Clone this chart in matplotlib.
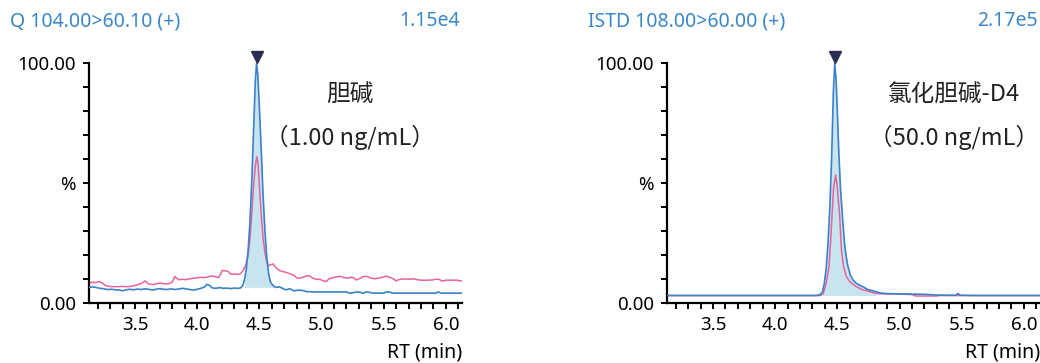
import numpy as np
import matplotlib
matplotlib.use("Agg")
import matplotlib.pyplot as plt

plt.rcParams['font.family'] = ['Noto Sans', 'Noto Sans CJK SC', 'DejaVu Sans']

# ---- data (RT in min, intensity in %) ----
q_rt = [3.13, 3.16, 3.19, 3.22, 3.25, 3.28, 3.31, 3.34, 3.37, 3.40, 3.43, 3.46, 3.49,
        3.52, 3.55, 3.58, 3.61, 3.64, 3.67, 3.70, 3.73, 3.76, 3.79, 3.82, 3.85, 3.88,
        3.91, 3.94, 3.97, 4.00, 4.03, 4.06, 4.08, 4.10, 4.12, 4.15, 4.18, 4.21, 4.24,
        4.27, 4.30, 4.33, 4.35, 4.365, 4.38, 4.395, 4.41, 4.425, 4.44, 4.455, 4.468,
        4.478, 4.488, 4.50, 4.515, 4.53, 4.545, 4.56, 4.575, 4.59, 4.61, 4.63, 4.66,
        4.68, 4.70, 4.72, 4.74, 4.76, 4.78, 4.80, 4.83, 4.86, 4.88, 4.91, 4.94, 5.00,
        5.10, 5.20, 5.225, 5.26, 5.28, 5.31, 5.33, 5.35, 5.36, 5.39, 5.41, 5.50, 5.52,
        5.55, 5.57, 5.70, 5.80, 5.92, 5.94, 5.96, 6.05, 6.13]
q_main = [6.4, 6.6, 6.3, 6.0, 5.8, 5.5, 5.6, 5.4, 5.3, 5.0, 5.4, 5.6, 5.4,
          5.7, 5.5, 5.8, 5.6, 5.3, 5.6, 5.9, 5.6, 5.5, 5.8, 5.5, 5.7, 6.0,
          5.8, 5.5, 5.3, 5.6, 6.0, 6.6, 7.7, 7.2, 6.2, 6.0, 6.3, 6.0, 6.1,
          5.9, 6.1, 6.0, 6.2, 7.0, 9.5, 14, 22, 34, 52, 74, 93,
          100, 95, 82, 64, 45, 30, 19, 12, 8.5, 7.2, 6.4, 6.6,
          6.2, 5.6, 5.4, 5.8, 5.5, 4.9, 5.2, 5.2, 5.0, 4.6, 4.6, 4.5, 4.5,
          4.5, 4.5, 4.0, 4.2, 4.5, 4.4, 3.9, 4.3, 4.5, 4.3, 4.0, 4.0, 4.5,
          4.4, 4.0, 4.0, 4.0, 4.0, 4.5, 4.0, 4.0, 4.0]

q_rt2 = [3.13, 3.16, 3.19, 3.21, 3.23, 3.26, 3.29, 3.32, 3.36, 3.40, 3.44, 3.48, 3.51,
         3.55, 3.58, 3.61, 3.64, 3.68, 3.71, 3.74, 3.77, 3.80, 3.82, 3.85, 3.88, 3.91,
         3.94, 3.97, 4.00, 4.03, 4.06, 4.09, 4.115, 4.14, 4.17, 4.19, 4.20, 4.23, 4.25,
         4.27, 4.30, 4.33, 4.35, 4.37, 4.39, 4.41, 4.425, 4.44, 4.455, 4.47, 4.48, 4.49,
         4.50, 4.515, 4.53, 4.545, 4.56, 4.575, 4.59, 4.61, 4.63, 4.66, 4.69, 4.72, 4.75,
         4.78, 4.80, 4.82, 4.85, 4.88, 4.90, 4.93, 4.96, 4.99, 5.02, 5.04, 5.06, 5.09,
         5.12, 5.15, 5.18, 5.21, 5.24, 5.26, 5.28, 5.31, 5.34, 5.37, 5.40, 5.43, 5.46,
         5.49, 5.52, 5.55, 5.58, 5.60, 5.62, 5.65, 5.68, 5.71, 5.74, 5.77, 5.80, 5.83,
         5.86, 5.89, 5.92, 5.95, 5.97, 6.00, 6.03, 6.06, 6.09, 6.12, 6.13]
q_qual = [8.4, 8.5, 8.4, 8.9, 8.4, 7.3, 6.8, 6.7, 6.7, 6.8, 6.7, 6.9, 7.4,
          8.0, 9.1, 7.8, 7.6, 8.0, 8.2, 7.8, 7.9, 8.6, 10.9, 9.6, 9.8, 9.6,
          10.0, 10.2, 10.4, 10.6, 10.5, 10.8, 11.2, 10.9, 10.5, 12.0, 13.4, 13.3, 13.0,
          11.9, 12.0, 11.8, 12.2, 13.5, 15.5, 20, 27, 38, 50, 58, 61, 58,
          49, 37, 27, 21, 17, 15.5, 15.8, 16.2, 14.8, 13.5, 13.0, 12.6, 12.0,
          11.4, 10.4, 10.2, 10.6, 11.2, 11.3, 10.2, 9.8, 9.7, 9.0, 8.9, 10.0, 10.5,
          10.8, 11.0, 10.5, 10.2, 10.7, 10.3, 9.5, 10.2, 11.0, 10.9, 10.2, 10.0, 10.3,
          10.6, 11.1, 10.6, 9.9, 9.1, 9.6, 9.9, 9.9, 9.8, 10.0, 9.6, 9.4, 9.4,
          9.4, 9.5, 9.8, 9.7, 9.0, 9.4, 9.4, 9.4, 9.4, 9.1, 9.0]

istd_rt = [3.13, 4.33, 4.36, 4.38, 4.395, 4.41, 4.425, 4.44, 4.455, 4.468, 4.479, 4.49,
           4.50, 4.511, 4.525, 4.541, 4.559, 4.575, 4.586, 4.605, 4.626, 4.65, 4.68,
           4.706, 4.74, 4.78, 4.814, 4.85, 4.90, 5.00, 5.10, 5.20, 5.30, 5.40, 5.45,
           5.47, 5.49, 5.60, 6.13]
istd_main = [3.0, 3.0, 3.3, 4.5, 8, 14, 25, 40, 62, 88, 100, 93,
             80, 64, 48, 36, 24, 18, 15, 11.5, 9.5, 8.2, 7.3,
             6.7, 5.6, 5.0, 4.6, 4.0, 3.8, 3.7, 3.6, 3.5, 3.2, 3.1, 3.1,
             3.8, 3.1, 3.0, 3.0]

istd_rt2 = [3.13, 4.36, 4.385, 4.41, 4.433, 4.445, 4.457, 4.47, 4.487, 4.50, 4.519,
            4.533, 4.55, 4.573, 4.60, 4.63, 4.653, 4.70, 4.76, 4.80, 4.85, 5.00, 5.10,
            5.13, 5.30, 5.32, 6.13]
istd_qual = [3.0, 3.0, 3.6, 8, 15, 25, 36, 48, 53.3, 48, 36,
             22, 15, 10.9, 8.8, 7.5, 6.7, 5.5, 4.6, 4.0, 3.7, 3.6, 3.4,
             2.8, 2.8, 3.0, 3.0]

# integration window and baseline level of the filled peak
q_window = (4.37, 4.637)
q_base = 6.4
istd_window = (4.37, 4.84)
istd_base = 3.0
apex = [4.478, 4.479]

titles = ["Q 104.00>60.10 (+)", "ISTD 108.00>60.00 (+)"]
heights = ["1.15e4", "2.17e5"]
names = ["胆碱", "氯化胆碱-D4"]
amounts = ["（1.00 ng/mL）", "（50.0 ng/mL）"]

x_ticks = [round(3.2 + 0.1 * i, 1) for i in range(30)]
x_labels = ["%.1f" % t if abs(t * 2 - round(t * 2)) < 1e-6 else "" for t in x_ticks]
y_ticks = list(range(0, 101, 10))
y_labels = ["0.00", "", "", "", "", "%", "", "", "", "", "100.00"]

BLUE = "#3a82c9"
PINK = "#e8629f"
FILL = "#c8e4ef"
TITLE = "#3a87c8"
NAVY = "#2b2d55"

fig = plt.figure(figsize=(10.4, 3.63), dpi=100)
W, H = 1040.0, 363.0

panels = [
    (89, q_rt, q_main, q_rt2, q_qual, q_window, q_base, 350, 10, 460),
    (667, istd_rt, istd_main, istd_rt2, istd_qual, istd_window, istd_base, 954, 588, 1038),
]

for i, (left, rt, main, rt2, qual, win, base, cx, tx, hx) in enumerate(panels):
    ax = fig.add_axes([left / W, 60.3 / H, 373 / W, 239.4 / H])
    rt = np.array(rt)
    main = np.array(main)
    m = (rt >= win[0]) & (rt <= win[1])
    ax.fill_between(rt[m], main[m], base, color=FILL, lw=0, zorder=1)
    ax.plot(rt2, qual, color=PINK, lw=1.1, zorder=2)
    ax.plot(rt, main, color=BLUE, lw=1.2, zorder=3)
    ax.plot([apex[i]], [102.8], marker="v", color=NAVY, ms=9, clip_on=False, zorder=4)

    ax.set_xlim(3.13, 6.13)
    ax.set_ylim(0, 100)
    for s in ["top", "right"]:
        ax.spines[s].set_visible(False)
    for s in ["left", "bottom"]:
        ax.spines[s].set_linewidth(1.6)
    ax.set_xticks(x_ticks)
    ax.set_xticklabels(x_labels)
    ax.set_yticks(y_ticks)
    ax.set_yticklabels(y_labels)
    ax.tick_params(axis="both", direction="out", length=4.5, width=1.4,
                   labelsize=13.5, colors="black")
    ax.tick_params(axis="x", pad=5)
    ax.tick_params(axis="y", pad=5)

    ax.text(1.0, -0.21, "RT (min)", transform=ax.transAxes, ha="right",
            va="center", fontsize=14)

    ax.text((cx - left) / 373.0, (302.7 - 95) / 239.4, names[i],
            transform=ax.transAxes, ha="center", va="center", fontsize=17,
            fontweight="light", color="#222222",
            family=["Noto Sans CJK SC", "DejaVu Sans"])
    ax.text((cx - left) / 373.0, (302.7 - 137) / 239.4, amounts[i],
            transform=ax.transAxes, ha="center", va="center", fontsize=17,
            fontweight="light", color="#222222",
            family=["Noto Sans CJK SC", "DejaVu Sans"])

    fig.text(tx / W, 1 - 21 / H, titles[i], ha="left", va="center",
             color=TITLE, fontsize=14)
    fig.text(hx / W, 1 - 21 / H, heights[i], ha="right", va="center",
             color=TITLE, fontsize=14)

fig.savefig("out.png", dpi=100)
